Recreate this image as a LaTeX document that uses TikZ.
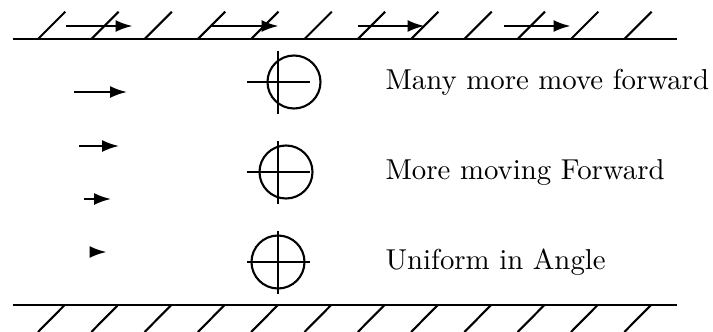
\documentclass[tikz,border=0pt]{standalone}
\usetikzlibrary{arrows.meta}
\begin{document}
\begin{tikzpicture}[x=1pt,y=-1pt,
  ln/.style={line width=2.1pt},
  arr/.style={line width=2.1pt,-{Latex[length=17pt,width=12pt]}},
  lbl/.style={anchor=base west,inner sep=0pt,scale=2.88}]
\useasboundingbox (0,0) rectangle (713,332);
% walls
\draw[ln] (12.7,38.7) -- (676.7,38.7);
\draw[ln] (12.7,304.7) -- (676.7,304.7);
\foreach \k in {0,...,11}{
  \draw[ln] ({38.3+53.3*\k},38.7) -- ++(27,-27);
  \draw[ln] ({65+53.3*\k},304.7) -- ++(-27,27.3);
}
% arrows along top wall
\foreach \k in {0,...,3}{
  \draw[arr] ({66+146*\k},26) -- ++(66.5,0);
}
% left arrows
\draw[arr] (74,92) -- (127,92);
\draw[arr] (79,146) -- (119,146);
\draw[arr] (84,199) -- (111,199);
\draw[arr] (89.5,252) -- (106.5,252);
% crosses and circles
\foreach \y/\dx in {82/16,172/8,262/0}{
  \draw[ln] (278,\y-31.5) -- (278,\y+31.5);
  \draw[ln] (246.5,\y) -- (309.5,\y);
  \draw[ln] (278+\dx,\y) circle[radius=26.5];
}
% labels
\node[lbl] (t1) at (385,89.5) {Many more move forward};
\node[lbl] (t2) at (385,179.5) {More moving Forward};
\node[lbl] (t3) at (385,269.5) {Uniform in Angle};
\end{tikzpicture}
\end{document}
